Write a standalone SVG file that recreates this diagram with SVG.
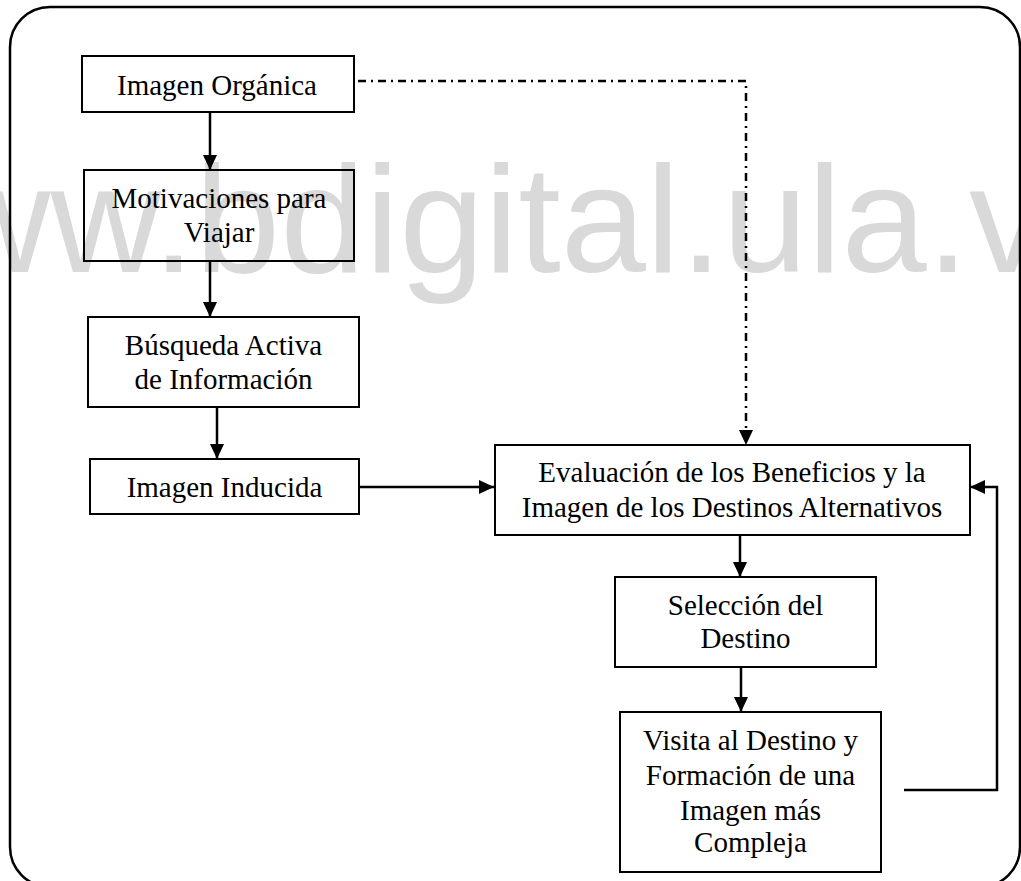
<svg xmlns="http://www.w3.org/2000/svg" width="1021" height="881" viewBox="0 0 1021 881">
  <style>
    .box { fill: none; stroke: #000; stroke-width: 2; }
    .lbl { font-family: "Liberation Serif", "Times New Roman", serif; font-size: 29px; fill: #000; text-anchor: middle; }
    .wm { font-family: "Liberation Sans", Arial, sans-serif; font-size: 153px; fill: #d9d9d9; }
    .link { fill: none; stroke: #000; stroke-width: 2.5; }
    .dashdot { fill: none; stroke: #000; stroke-width: 2.5; stroke-dasharray: 8 5 2 5; }
  </style>
  <defs>
    <marker id="ah" markerUnits="userSpaceOnUse" markerWidth="15" markerHeight="14" refX="15" refY="7" orient="auto">
      <path d="M0,0 L15,7 L0,14 z" fill="#000"/>
    </marker>
  </defs>

  <rect width="1021" height="881" fill="#fff"/>

  <!-- background watermark -->
  <text class="wm" x="-170.5" y="272">www.bdigital.ula.ve</text>

  <!-- outer frame -->
  <rect x="10" y="7" width="1010" height="880" rx="40" ry="40" fill="none" stroke="#000" stroke-width="2.5"/>

  <g id="connectors">
    <line class="link" x1="210" y1="112" x2="210" y2="170" marker-end="url(#ah)"/>
    <line class="link" x1="210" y1="261" x2="210" y2="317" marker-end="url(#ah)"/>
    <line class="link" x1="217" y1="407" x2="217" y2="459" marker-end="url(#ah)"/>
    <line class="link" x1="359" y1="487" x2="494" y2="487" marker-end="url(#ah)"/>
    <line class="link" x1="740" y1="535" x2="740" y2="577" marker-end="url(#ah)"/>
    <line class="link" x1="741" y1="667" x2="741" y2="712" marker-end="url(#ah)"/>
    <path class="link" d="M904,790 H997 V487 H970" marker-end="url(#ah)"/>
    <path class="dashdot" d="M358,81 H746 V444"/>
    <path d="M739,430 L746,445 L753,430 z" fill="#000"/>
  </g>

  <g id="imagen-organica">
    <rect class="box" x="82" y="56" width="272" height="56"/>
    <text class="lbl" x="217" y="95">Imagen Orgánica</text>
  </g>

  <g id="motivaciones">
    <rect class="box" x="84" y="170" width="270" height="91"/>
    <text class="lbl" x="219" y="208">Motivaciones para</text>
    <text class="lbl" x="219" y="242">Viajar</text>
  </g>

  <g id="busqueda">
    <rect class="box" x="88" y="317" width="271" height="90"/>
    <text class="lbl" x="223.5" y="355">Búsqueda Activa</text>
    <text class="lbl" x="223.5" y="389">de Información</text>
  </g>

  <g id="imagen-inducida">
    <rect class="box" x="90" y="459" width="269" height="55"/>
    <text class="lbl" x="224.5" y="497">Imagen Inducida</text>
  </g>

  <g id="evaluacion">
    <rect class="box" x="495" y="445" width="475" height="90"/>
    <text class="lbl" x="732" y="482">Evaluación de los Beneficios y la</text>
    <text class="lbl" x="732" y="517">Imagen de los Destinos Alternativos</text>
  </g>

  <g id="seleccion">
    <rect class="box" x="615" y="577" width="261" height="90"/>
    <text class="lbl" x="745.5" y="615">Selección del</text>
    <text class="lbl" x="745.5" y="648">Destino</text>
  </g>

  <g id="visita">
    <rect class="box" x="620" y="712" width="261" height="160"/>
    <text class="lbl" x="750.5" y="750">Visita al Destino y</text>
    <text class="lbl" x="750.5" y="785">Formación de una</text>
    <text class="lbl" x="750.5" y="820">Imagen más</text>
    <text class="lbl" x="750.5" y="852">Compleja</text>
  </g>
</svg>
